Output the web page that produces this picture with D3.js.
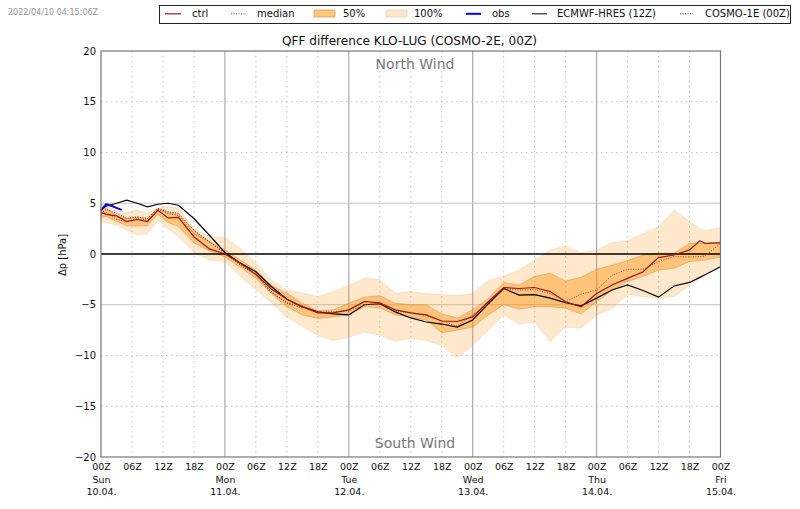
<!DOCTYPE html>
<html>
<head>
<meta charset="utf-8">
<script src="https://cdn.jsdelivr.net/npm/d3@7"></script>
<style>
  html, body { margin: 0; padding: 0; background: #fff; }
  text { font-family: "DejaVu Sans", sans-serif; }
</style>
</head>
<body>
<svg id="chart" width="800" height="509"></svg>
<script>
// forecast hours since 10.04. 00Z
const hours = [0,1,3,5,7,9,11,13,15,18,21,24,27,30,33,36,39,42,45,48,51,54,57,60,63,66,69,72,75,78,81,84,87,90,93,96,99,102,105,108,111,114,116,117,120];

// values in hPa
const ctrl = [4.1,3.9,3.75,3.2,3.4,3.2,4.3,3.55,3.6,1.7,0.5,0,-0.9,-2,-3.45,-4.45,-5.2,-5.8,-5.8,-5.5,-4.7,-4.8,-5.5,-5.8,-6,-6.6,-6.65,-6.2,-4.7,-3.3,-3.4,-3.3,-3.7,-4.7,-5.2,-3.9,-3.05,-2.4,-1.75,-0.35,-0.1,0.4,1.3,1.05,1.1];
const median = [4,4.1,3.4,3.2,3.5,3.3,4.4,4,3.8,2,1.2,0.05,-1.05,-2.05,-3.85,-4.8,-5.1,-5.7,-5.7,-5.6,-5,-4.9,-5.6,-5.8,-6.1,-6.6,-7.1,-6,-5,-3.4,-3.55,-3.5,-3.9,-4.7,-3.95,-3.55,-2.1,-1.5,-1.5,-0.75,-0.25,-0.3,-0.25,-0.2,1.05];
const p75 = [4.4,4.5,3.8,3.5,3.65,3.5,4.45,4.1,3.9,2.3,1.2,0.4,-0.6,-1.6,-3.1,-3.85,-4.85,-5.6,-5.5,-4.85,-4.25,-4.1,-4.85,-5,-5,-5.9,-6.3,-5.5,-4.4,-2.8,-3.05,-2.2,-1.9,-2.65,-2.3,-1.5,-1.1,-0.65,-0.1,0.1,0.05,1.05,1.1,1,1.2];
const p25 = [3.6,3.7,3.2,2.8,2.75,2.8,3.9,3.1,2.7,1.1,0.3,-0.3,-1.3,-2.4,-3.9,-5.2,-6,-6.35,-6.2,-6,-5.2,-5.3,-6,-6.2,-6.5,-7.75,-7.5,-7.2,-6,-5,-5.45,-5.2,-5.2,-5.35,-5.9,-4.7,-3.55,-2.7,-2.2,-1.6,-1.4,-0.75,-0.65,-0.6,-0.3];
const pMax = [4.6,4.7,4.3,4.1,4.3,4,4.5,4.7,4.5,2.5,1.7,1.6,0.55,-0.9,-2.56,-3.55,-3.85,-4.2,-3.7,-3.1,-2.4,-2.5,-3.9,-3.7,-3.9,-4,-4.1,-3.9,-2.6,-2.2,-1.6,-0.6,0.4,0.8,0.1,0.4,1.1,1.3,2,2.7,4.3,3.2,2.5,2.3,2.6];
const pMin = [3.2,3.1,2.85,2.35,1.9,2,3.3,2.5,1.7,0.2,-0.6,-0.75,-2.2,-3.5,-4.8,-6.2,-7.15,-8,-8.5,-8.2,-7.7,-8,-8.6,-8.3,-8.5,-9,-10.2,-9,-7.5,-6,-6.9,-6.7,-8.6,-7.2,-7.3,-6,-5.35,-4,-4.2,-4.3,-4.2,-3.05,-2.4,-2.1,-1.25];
const hres = [4.4,4.7,5,5.3,5,4.65,4.9,5,4.8,3.5,1.85,0.15,-0.9,-1.75,-3.2,-4.45,-5.2,-5.7,-5.9,-6,-5,-4.9,-5.7,-6.3,-6.7,-6.9,-7.2,-6.5,-4.9,-3.4,-4.05,-4,-4.35,-4.8,-5.1,-4.35,-3.55,-3.05,-3.6,-4.25,-3.15,-2.8,-2.3,-2.05,-1.25];

// COSMO-1E only covers the first part of the forecast
const c1Hours = [0,1,3,5,7,9,11,13,15,18,21,24,27,30,33,36,39];
const c1e = [4,4.4,4,3.5,3.65,3.5,4.5,4.15,4,2.35,1.2,0.15,-1.1,-2.05,-3.7,-4.85,-5.3];

const obsHours = [0,1,2,3,4];
const obs = [4.3,4.9,4.75,4.55,4.35];

const yTicks = [-20,-15,-10,-5,0,5,10,15,20];
const dayLabels = {0:["Sun","10.04."],24:["Mon","11.04."],48:["Tue","12.04."],72:["Wed","13.04."],96:["Thu","14.04."],120:["Fri","15.04."]};

const plotL = 101, plotR = 720.5, plotT = 51, plotB = 457;

const svg = d3.select("#chart");

const x = d3.scaleLinear().domain([0,120]).range([plotL,plotR]);
const y = d3.scaleLinear().domain([-20,20]).range([plotB,plotT]);

// grid, 6 hourly dotted and daily solid
const xTicks = d3.range(0,121,6);
xTicks.forEach(h => {
  if (h == 0 || h == 120) return;
  const daily = h % 24 == 0;
  svg.append("line")
    .attr("x1",x(h)).attr("x2",x(h)).attr("y1",plotT).attr("y2",plotB)
    .attr("stroke", daily ? "#aaa" : "#bbb")
    .attr("stroke-width", daily ? 1.2 : 0.9)
    .attr("stroke-dasharray", daily ? null : "1.5,3.5");
});
yTicks.forEach(v => {
  if (Math.abs(v) == 20 || v == 0) return;
  const solid = Math.abs(v) == 5;
  svg.append("line")
    .attr("x1",plotL).attr("x2",plotR).attr("y1",y(v)).attr("y2",y(v))
    .attr("stroke", solid ? "#c4c4c4" : "#bbb")
    .attr("stroke-width", solid ? 1.2 : 0.9)
    .attr("stroke-dasharray", solid ? null : "1.5,3.5");
});

// ensemble bands
const band = (lo,hi) => d3.area()
  .x((d,i) => x(hours[i]))
  .y0((d,i) => y(lo[i]))
  .y1((d,i) => y(hi[i]))(hours);

svg.append("path").attr("d",band(pMin,pMax))
  .attr("fill","#ff8c00").attr("fill-opacity",0.2)
  .attr("stroke","#e8a860").attr("stroke-opacity",0.3).attr("stroke-width",0.8);
svg.append("path").attr("d",band(p25,p75))
  .attr("fill","#ff8c00").attr("fill-opacity",0.4)
  .attr("stroke","#c88030").attr("stroke-opacity",0.5).attr("stroke-width",0.8);

// zero line
svg.append("line")
  .attr("x1",plotL).attr("x2",plotR).attr("y1",y(0)).attr("y2",y(0))
  .attr("stroke","#000").attr("stroke-width",1.4);

function drawLine(xs,ys,color,width,dash) {
  const line = d3.line().x((d,i) => x(xs[i])).y((d,i) => y(ys[i]));
  svg.append("path").attr("d",line(xs))
    .attr("fill","none").attr("stroke",color).attr("stroke-width",width)
    .attr("stroke-dasharray",dash);
}

drawLine(c1Hours,c1e,"#333",1,"1,1.5");
drawLine(hours,hres,"#000",1.2,null);
drawLine(hours,median,"#c0392b",1,"1,1.5");
drawLine(hours,ctrl,"#9a1a1a",1.2,null);
drawLine(obsHours,obs,"#0000ee",2,null);

// frame
svg.append("rect")
  .attr("x",plotL).attr("y",plotT).attr("width",plotR-plotL).attr("height",plotB-plotT)
  .attr("fill","none").attr("stroke","#777").attr("stroke-width",1.2);

// y axis
const yAxis = svg.append("g").attr("transform",`translate(${plotL},0)`)
  .call(d3.axisLeft(y).tickValues(yTicks).tickSize(0).tickPadding(5).tickFormat(d => d < 0 ? "\u2212"+(-d) : d));
yAxis.select(".domain").remove();
yAxis.selectAll("text").attr("font-size",10).attr("fill","#111");

// x axis with day and date below the hour
const xAxis = svg.append("g").attr("transform",`translate(0,${plotB})`)
  .call(d3.axisBottom(x).tickValues(xTicks).tickSize(0).tickPadding(6).tickFormat(h => {
    const z = h % 24;
    return (z < 10 ? "0"+z : z) + "Z";
  }));
xAxis.select(".domain").remove();
xAxis.selectAll("text").attr("font-size",9.5).attr("fill","#111");
xAxis.selectAll(".tick").each(function(h) {
  const lab = dayLabels[h];
  if (!lab) return;
  const t = d3.select(this);
  lab.forEach((s,i) => {
    t.append("text").attr("y",25.5+i*12).attr("text-anchor","middle")
      .attr("font-size",9.5).attr("fill","#111").text(s);
  });
});

// titles
svg.append("text").attr("x",409.5).attr("y",44.5).attr("text-anchor","middle")
  .attr("font-size",12.1).attr("fill","#111").text("QFF difference KLO-LUG (COSMO-2E, 00Z)");
svg.append("text").attr("x",8).attr("y",15.3).attr("font-size",8).attr("fill","#999")
  .text("2022/04/10 04:15:06Z");
svg.append("text").attr("transform","translate(65.5,255) rotate(-90)").attr("text-anchor","middle")
  .attr("font-size",10).attr("fill","#111").text("\u0394p [hPa]");
svg.append("text").attr("x",415).attr("y",69).attr("text-anchor","middle")
  .attr("font-size",14).attr("fill","#777").text("North Wind");
svg.append("text").attr("x",415).attr("y",448).attr("text-anchor","middle")
  .attr("font-size",14).attr("fill","#777").text("South Wind");

// legend
svg.append("rect").attr("x",159.5).attr("y",5.5).attr("width",631).attr("height",18)
  .attr("fill","#fff").attr("stroke","#222").attr("stroke-width",1);

const legend = [
  {label:"ctrl", x0:165, x1:181, tx:192, color:"#9a1a1a", w:1.2},
  {label:"median", x0:231, x1:245, tx:257, color:"#c0392b", w:1, dash:"1,1.5"},
  {label:"50%", x0:314, x1:335, tx:343, fill:"#ffc680", edge:"#d8a060"},
  {label:"100%", x0:386, x1:407, tx:414, fill:"#ffe8cc", edge:"#f0d0a8"},
  {label:"obs", x0:466, x1:481, tx:492, color:"#0000ee", w:2},
  {label:"ECMWF-HRES (12Z)", x0:532, x1:547, tx:557, color:"#333", w:1.2},
  {label:"COSMO-1E (00Z)", x0:680, x1:693, tx:705, color:"#333", w:1, dash:"1,1.5"}
];
legend.forEach(d => {
  if (d.fill) {
    svg.append("rect").attr("x",d.x0).attr("y",10).attr("width",d.x1-d.x0).attr("height",7)
      .attr("fill",d.fill).attr("stroke",d.edge).attr("stroke-width",0.8);
  } else {
    svg.append("line").attr("x1",d.x0).attr("x2",d.x1).attr("y1",13.8).attr("y2",13.8)
      .attr("stroke",d.color).attr("stroke-width",d.w).attr("stroke-dasharray",d.dash);
  }
  svg.append("text").attr("x",d.tx).attr("y",17.2).attr("font-size",10).attr("fill","#111").text(d.label);
});
</script>
</body>
</html>
